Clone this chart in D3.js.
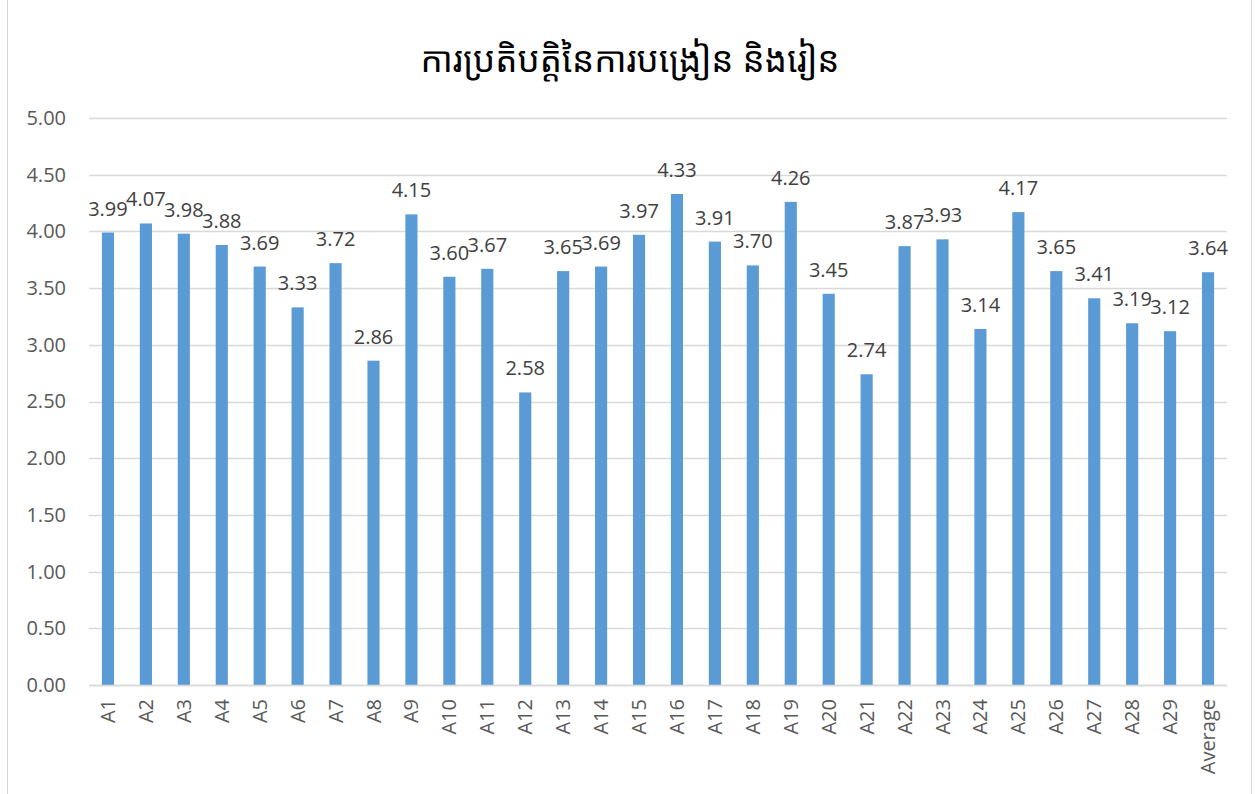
<!DOCTYPE html>
<html>
<head>
<meta charset="utf-8">
<script src="https://cdn.jsdelivr.net/npm/d3@7"></script>
<style>
  body { margin: 0; background: #fff; }
  svg { font-family: "Segoe UI", "Open Sans", "Noto Sans", sans-serif; }
</style>
</head>
<body>
<div id="chart"></div>
<script>
// chart data
const categories = ["A1","A2","A3","A4","A5","A6","A7","A8","A9","A10","A11","A12","A13","A14","A15",
  "A16","A17","A18","A19","A20","A21","A22","A23","A24","A25","A26","A27","A28","A29","Average"];
const values = [3.99,4.07,3.98,3.88,3.69,3.33,3.72,2.86,4.15,3.60,3.67,2.58,3.65,3.69,3.97,
  4.33,3.91,3.70,4.26,3.45,2.74,3.87,3.93,3.14,4.17,3.65,3.41,3.19,3.12,3.64];
const yTicks = [0,0.5,1,1.5,2,2.5,3,3.5,4,4.5,5];
const title = "ការប្រតិបត្តិនៃការបង្រៀន និងរៀន";

const width = 1255, height = 794;
const margin = {top: 118, right: 28, bottom: 109, left: 89};

const svg = d3.select("#chart").append("svg")
  .attr("width", width)
  .attr("height", height);

// outer chart border
svg.append("rect")
  .attr("x", 7.5).attr("y", -1)
  .attr("width", 1244).attr("height", height + 2)
  .attr("fill", "none")
  .attr("stroke", "#d9d9d9");

const x = d3.scaleBand()
  .domain(categories)
  .range([margin.left, width - margin.right])
  .paddingInner(0.68)
  .paddingOuter(0.34);

const y = d3.scaleLinear()
  .domain([0, 5])
  .range([height - margin.bottom, margin.top]);

// gridlines
svg.append("g")
  .selectAll("line")
  .data(yTicks)
  .enter()
  .append("line")
  .attr("x1", margin.left)
  .attr("x2", width - margin.right)
  .attr("y1", d => Math.round(y(d)) + 0.5)
  .attr("y2", d => Math.round(y(d)) + 0.5)
  .attr("stroke", "#d9d9d9")
  .attr("stroke-width", 1.3);

// y axis labels
const yAxis = svg.append("g")
  .attr("transform", `translate(${margin.left},0)`)
  .call(d3.axisLeft(y).tickValues(yTicks).tickFormat(d3.format(".2f")).tickSize(0).tickPadding(23));
yAxis.select(".domain").remove();
yAxis.selectAll("text")
  .attr("font-size", 20)
  .attr("fill", "#595959")
  .attr("font-family", "'Segoe UI', 'Open Sans', 'Noto Sans', sans-serif");

// bars
svg.append("g")
  .selectAll("rect")
  .data(values)
  .enter()
  .append("rect")
  .attr("x", (d, i) => x(categories[i]))
  .attr("y", d => y(d))
  .attr("width", x.bandwidth())
  .attr("height", d => y(0) - y(d))
  .attr("fill", "#5b9bd5");

// value labels
svg.append("g")
  .selectAll("text")
  .data(values)
  .enter()
  .append("text")
  .attr("x", (d, i) => x(categories[i]) + x.bandwidth() / 2)
  .attr("y", d => y(d) - 17)
  .attr("text-anchor", "middle")
  .attr("font-size", 20)
  .attr("fill", "#404040")
  .text(d => d.toFixed(2));

// x axis line + category labels
svg.append("line")
  .attr("x1", margin.left)
  .attr("x2", width - margin.right)
  .attr("y1", Math.round(y(0)) + 0.5)
  .attr("y2", Math.round(y(0)) + 0.5)
  .attr("stroke", "#d9d9d9")
  .attr("stroke-width", 1.3);

svg.append("g")
  .selectAll("text")
  .data(categories)
  .enter()
  .append("text")
  .attr("transform", d => `translate(${x(d) + x.bandwidth() / 2 + 7},${y(0) + 14}) rotate(-90)`)
  .attr("text-anchor", "end")
  .attr("font-size", 20)
  .attr("fill", "#595959")
  .text(d => d);

// title
svg.append("text")
  .attr("x", 630)
  .attr("y", 72)
  .attr("text-anchor", "middle")
  .attr("font-size", 35)
  .attr("fill", "#000")
  .attr("font-family", "'Khmer OS', 'Noto Sans Khmer', 'Leelawadee UI', 'DejaVu Sans', sans-serif")
  .text(title);
</script>
</body>
</html>
